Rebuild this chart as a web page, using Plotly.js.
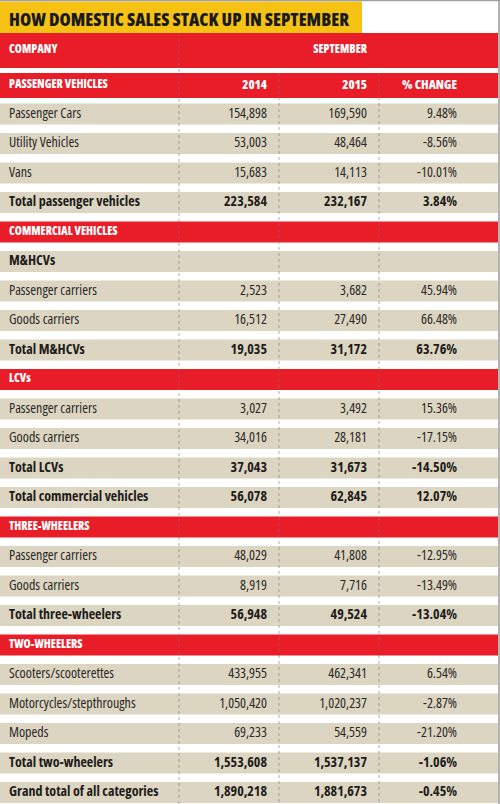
<!DOCTYPE html>
<html>
<head>
<meta charset="utf-8">
<script src="https://cdn.plot.ly/plotly-3.0.1.min.js"></script>
<style>
html,body{margin:0;padding:0;background:#fff;}
#chart{width:500px;height:804px;}
#chart text{font-stretch:75% !important;}
</style>
</head>
<body>
<div id="chart"></div>
<script>
// ---------- data ----------
const chartTitle = "HOW DOMESTIC SALES STACK UP IN SEPTEMBER";
const topHeader = ["COMPANY", "SEPTEMBER"];
const columnHeaders = ["PASSENGER VEHICLES", "2014", "2015", "% CHANGE"];

const rowLabels = [
  "Passenger Cars", "Utility Vehicles", "Vans", "Total passenger vehicles",
  "COMMERCIAL VEHICLES", "M&HCVs", "Passenger carriers", "Goods carriers", "Total M&HCVs",
  "LCVs", "Passenger carriers", "Goods carriers", "Total LCVs", "Total commercial vehicles",
  "THREE-WHEELERS", "Passenger carriers", "Goods carriers", "Total three-wheelers",
  "TWO-WHEELERS", "Scooters/scooterettes", "Motorcycles/stepthroughs", "Mopeds",
  "Total two-wheelers", "Grand total of all categories"
];
const rowTypes = [
  "item", "item", "item", "total",
  "section", "sub", "item", "item", "total",
  "section", "item", "item", "total", "total",
  "section", "item", "item", "total",
  "section", "item", "item", "item",
  "total", "total"
];
const sales2014 = [154898, 53003, 15683, 223584, null, null, 2523, 16512, 19035,
  null, 3027, 34016, 37043, 56078, null, 48029, 8919, 56948,
  null, 433955, 1050420, 69233, 1553608, 1890218];
const sales2015 = [169590, 48464, 14113, 232167, null, null, 3682, 27490, 31172,
  null, 3492, 28181, 31673, 62845, null, 41808, 7716, 49524,
  null, 462341, 1020237, 54559, 1537137, 1881673];
const pctChange = [9.48, -8.56, -10.01, 3.84, null, null, 45.94, 66.48, 63.76,
  null, 15.36, -17.15, -14.50, 12.07, null, -12.95, -13.49, -13.04,
  null, 6.54, -2.87, -21.20, -1.06, -0.45];

// ---------- styling ----------
const W = 500, H = 804;
const RED = "#e81d28", BEIGE = "#dbd5c2", YELLOW = "#f6c214", DARK = "#2b2926";
const FONT = "'Open Sans', 'DejaVu Sans Condensed', sans-serif";
const ROW0 = 114, PITCH = 29.5;            // pixel centre of first body row, row pitch
const px2y = p => (p - ROW0) / PITCH;       // pixel -> y axis value
const colEdges = [179, 279, 379];           // column dividers
const textX = [9, 267, 367, 457];           // text anchors (left, right, right, right)

const fmtNum = v => v == null ? "" : v.toLocaleString("en-US");
const fmtPct = v => v == null ? "" : v.toFixed(2) + "%";
const columns = [rowLabels, sales2014.map(fmtNum), sales2015.map(fmtNum), pctChange.map(fmtPct)];

const styles = {
  item:    {color: DARK, size: 14, weight: 500},
  total:   {color: "#1f1d1a", size: 14, weight: 700},
  sub:     {color: "#1f1d1a", size: 14, weight: 700},
  section: {color: "#ffffff", size: 11.5, weight: 800}
};

const idx = rowLabels.map((_, i) => i);
const traces = [];
// row backgrounds
traces.push({
  type: "bar", orientation: "h", y: idx, x: idx.map(() => W - 2), base: 0,
  width: 0.71, marker: {color: rowTypes.map(t => t === "section" ? RED : BEIGE), line: {width: 0}},
  hoverinfo: "skip", showlegend: false
});
// header bands
const h2Top = px2y(73), h2Bot = px2y(98), h1Top = px2y(33), h1Bot = px2y(68);
const hY1 = (h1Top + h1Bot) / 2, hY2 = (h2Top + h2Bot) / 2;
traces.push({
  type: "bar", orientation: "h", y: [hY1, hY2], x: [W - 2, W - 2], base: 0,
  width: [h1Bot - h1Top, h2Bot - h2Top], marker: {color: RED, line: {width: 0}},
  hoverinfo: "skip", showlegend: false
});

function textTrace(xpos, pos, texts, ys, st) {
  return {
    type: "scatter", mode: "text", x: ys.map(() => xpos), y: ys, text: texts,
    textposition: pos, textfont: {family: FONT, color: st.color, size: st.size, weight: st.weight},
    hoverinfo: "skip", showlegend: false, cliponaxis: false
  };
}
// body text, grouped by row style
Object.keys(styles).forEach(type => {
  const rows = idx.filter(i => rowTypes[i] === type);
  columns.forEach((col, c) => {
    const ys = rows.filter(i => col[i] !== "");
    if (!ys.length) return;
    traces.push(textTrace(textX[c], c === 0 ? "middle right" : "middle left",
      ys.map(i => col[i]), ys, styles[type]));
  });
});
// header texts
const hdr = {color: "#ffffff", size: 11.5, weight: 800};
const hdrNum = {color: "#ffffff", size: 12.5, weight: 800};
traces.push(textTrace(textX[0], "middle right", [topHeader[0]], [hY1], hdr));
traces.push(textTrace(textX[2], "middle left", [topHeader[1]], [hY1], hdr));
traces.push(textTrace(textX[0], "middle right", [columnHeaders[0]], [hY2], hdr));
columnHeaders.slice(1).forEach((c, k) => {
  traces.push(textTrace(textX[k + 1], "middle left", [c], [hY2], hdrNum));
});

// decorative shapes
const shapes = [];
shapes.push({type: "rect", xref: "x", yref: "y", x0: 0, x1: 362, y0: px2y(1.5), y1: px2y(33),
  fillcolor: YELLOW, line: {width: 0}, layer: "below"});
colEdges.forEach((cx, k) => {
  shapes.push({type: "line", xref: "x", yref: "y", x0: cx, x1: cx,
    y0: k === 0 ? px2y(33) : px2y(73), y1: px2y(H),
    line: {color: "rgba(120,120,120,0.6)", width: 1, dash: "dot"}, layer: "above"});
});
shapes.push({type: "line", xref: "x", yref: "y", x0: 0, x1: W, y0: px2y(0.5), y1: px2y(0.5),
  line: {color: "#a0a0a0", width: 1.5}});
shapes.push({type: "line", xref: "x", yref: "y", x0: W - 1, x1: W - 1, y0: px2y(0), y1: px2y(H),
  line: {color: "#9a9a9a", width: 1.5}});

const layout = {
  width: W, height: H, margin: {l: 0, r: 0, t: 0, b: 0, pad: 0},
  paper_bgcolor: "#ffffff", plot_bgcolor: "#ffffff",
  title: {text: chartTitle, x: 9 / W, xanchor: "left", xref: "container",
    y: 1 - 19.5 / H, yanchor: "middle", yref: "container",
    font: {family: FONT, size: 18, color: "#1a1a1a", weight: 800}},
  xaxis: {range: [0, W], visible: false, fixedrange: true},
  yaxis: {range: [px2y(H), px2y(0)], visible: false, fixedrange: true},
  showlegend: false, barmode: "overlay", shapes: shapes
};

Plotly.newPlot("chart", traces, layout, {staticPlot: true, displayModeBar: false});
</script>
</body>
</html>
